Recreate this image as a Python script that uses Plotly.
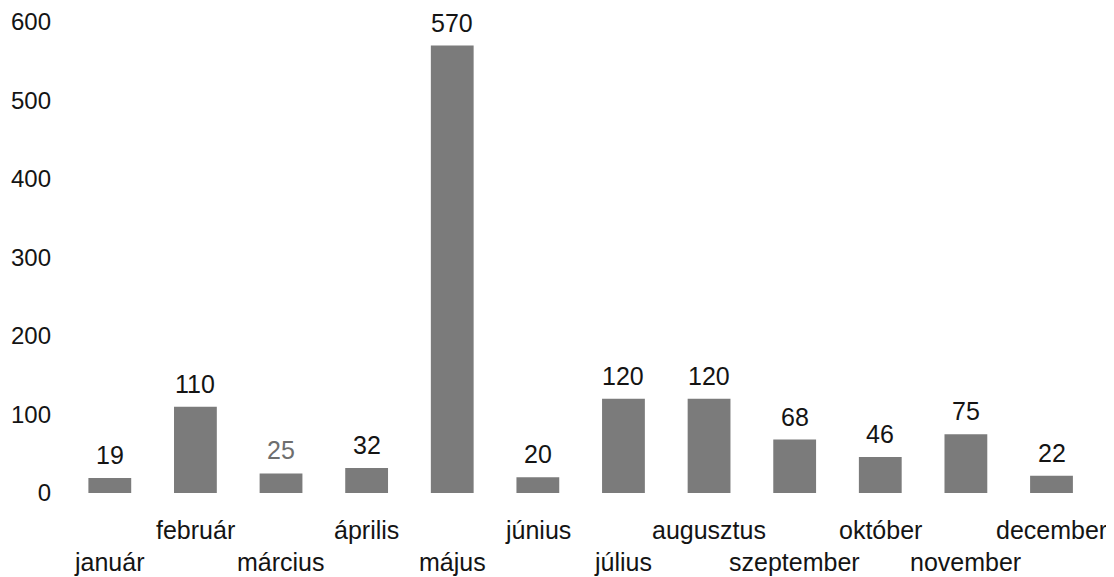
import plotly.graph_objects as go

months = ["január", "február", "március", "április", "május", "június",
          "július", "augusztus", "szeptember", "október", "november", "december"]
values = [19, 110, 25, 32, 570, 20, 120, 120, 68, 46, 75, 22]
label_colors = ["#141414"] * 12
label_colors[2] = "#6e6e6e"  # the március value is printed lighter
y_ticks = [0, 100, 200, 300, 400, 500, 600]

FONT = "Liberation Sans, Arial, sans-serif"

fig = go.Figure()
fig.add_trace(go.Bar(
    x=months,
    y=values,
    marker=dict(color="#7b7b7b", line=dict(width=0)),
    cliponaxis=False,
    hoverinfo="skip",
))

for i, (m, v) in enumerate(zip(months, values)):
    # value above each bar
    fig.add_annotation(
        x=m, y=v, xref="x", yref="y",
        text=str(v), showarrow=False,
        yanchor="middle", yshift=23,
        font=dict(family=FONT, size=25, color=label_colors[i]),
    )
    # staggered month labels: even positions upper row, odd lower row
    fig.add_annotation(
        x=m, y=0, xref="x", yref="y",
        text=m, showarrow=False,
        yanchor="middle",
        yshift=-37 if i % 2 == 1 else -69,
        font=dict(family=FONT, size=25, color="#141414"),
    )

# page body adds an 8px offset, margins compensate for it
fig.update_layout(
    width=1114, height=577,
    paper_bgcolor="white", plot_bgcolor="white",
    margin=dict(l=59, r=13, t=14, b=92),
    bargap=0.5,
    showlegend=False,
)
fig.update_xaxes(showticklabels=False, showline=False, showgrid=False,
                 zeroline=False, ticks="", automargin=False)
fig.update_yaxes(range=[0, 600], tickvals=y_ticks, showgrid=False,
                 zeroline=False, showline=False, ticks="", automargin=False,
                 tickfont=dict(family=FONT, size=24, color="#141414"),
                 ticklabelstandoff=15)

fig.write_html("out.html")
